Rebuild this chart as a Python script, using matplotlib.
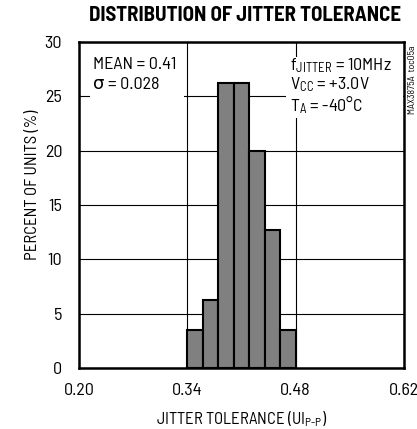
import matplotlib
matplotlib.use('Agg')
import matplotlib.pyplot as plt
from matplotlib.patches import Rectangle

FONT = ['Barlow Semi Condensed', 'DejaVu Sans']
plt.rcParams['font.family'] = FONT
plt.rcParams['mathtext.fontset'] = 'custom'
plt.rcParams['mathtext.rm'] = 'Barlow Semi Condensed'
plt.rcParams['mathtext.default'] = 'regular'

# histogram of jitter tolerance, bin width 0.02 UI
bin_left = [0.34, 0.36, 0.38, 0.40, 0.42, 0.44, 0.46]
percent = [3.5, 6.3, 26.2, 26.2, 20.0, 12.7, 3.5]
bin_width = 0.02

x_ticks = [0.20, 0.34, 0.48, 0.62]
x_tick_labels = ['0.20', '0.34', '0.48', '0.62']
y_ticks = [0, 5, 10, 15, 20, 25, 30]

fig = plt.figure(figsize=(4.17, 4.29), dpi=100)
ax = fig.add_axes([0.189, 0.142, 0.780, 0.760])

ax.bar(bin_left, percent, width=bin_width, align='edge',
       color='#808080', edgecolor='black', linewidth=1.5, zorder=3)

ax.set_xlim(0.20, 0.62)
ax.set_ylim(0, 30)
ax.set_xticks(x_ticks)
ax.set_xticklabels(x_tick_labels)
ax.set_yticks(y_ticks)
ax.tick_params(length=0, labelsize=13)
ax.tick_params(axis='y', pad=12)
ax.tick_params(axis='x', pad=11)
ax.grid(True, color='black', linewidth=0.8, zorder=0)
ax.set_axisbelow(True)
for s in ax.spines.values():
    s.set_linewidth(1.8)

# white masks behind the annotation blocks
ax.add_patch(Rectangle((0.034, 0.75), 0.29, 0.22, transform=ax.transAxes,
                       facecolor='white', edgecolor='none', zorder=1))
ax.add_patch(Rectangle((0.637, 0.767), 0.36, 0.186, transform=ax.transAxes,
                       facecolor='white', edgecolor='none', zorder=1))

ax.text(0.043, 0.955, 'MEAN = 0.41\nσ = 0.028', transform=ax.transAxes,
        fontsize=13, va='top', ha='left', linespacing=1.4, zorder=4)
ax.text(0.650, 0.955,
        'f$_{JITTER}$ = 10MHz\nV$_{CC}$ = +3.0V\nT$_{A}$ = -40°C',
        transform=ax.transAxes, fontsize=13, va='top', ha='left',
        linespacing=1.0, zorder=4)

ax.set_xlabel('JITTER TOLERANCE (UI$_{P\\text{-}P}$)', fontsize=12, labelpad=8)
ax.set_ylabel('PERCENT OF UNITS (%)', fontsize=12)
ax.yaxis.set_label_coords(-0.12, 0.561)

fig.text(0.588, 0.965, 'DISTRIBUTION OF JITTER TOLERANCE', fontsize=15,
         fontweight='bold', ha='center', va='center')
fig.text(0.989, 0.813, 'MAX3875A  toc05a', fontsize=7, rotation=90,
         ha='center', va='center')

fig.savefig('out.png', dpi=100)
